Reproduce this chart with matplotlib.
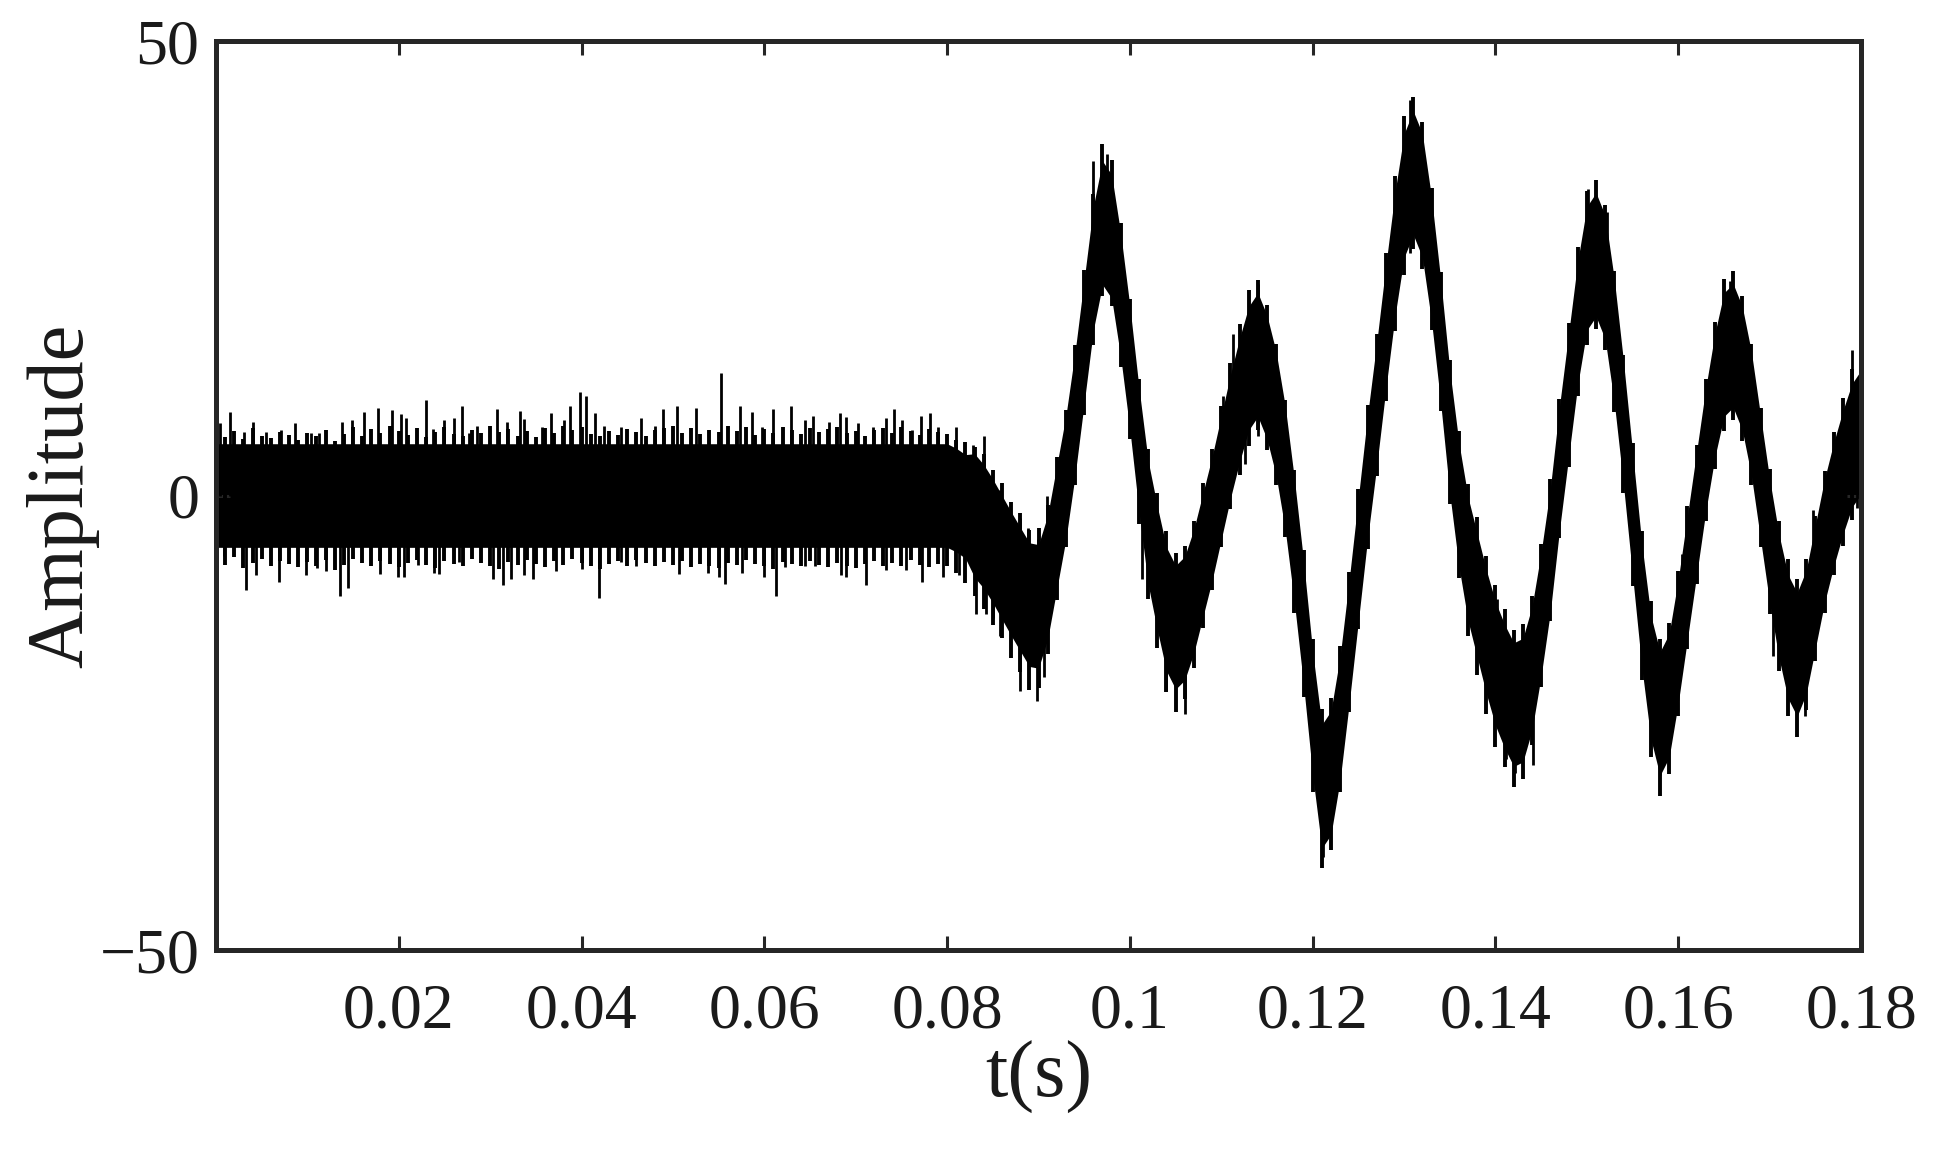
import numpy as np
import matplotlib
matplotlib.use("Agg")
import matplotlib.pyplot as plt

# ---------------- data ----------------
# time grid (s) for the centre line of the signal, 1 ms steps
t = np.round(np.arange(0, 181) * 0.001, 4)

# centre line of the signal (amplitude) at every millisecond
center = [0.0] * 81 + [
    -0.5, -1.2, -2.2, -3.4, -5.0, -6.8, -8.6, -10.3, -12.0, -12.2,      # 81-90
    -9.0, -3.5, 2.0, 9.0, 17.0, 25.0, 30.0, 28.5, 22.0, 14.0,            # 91-100
    5.0, -3.0, -8.0, -12.5, -14.5, -13.5, -10.5, -6.5, -2.5, 2.0,        # 101-110
    6.5, 10.5, 14.0, 15.5, 13.0, 9.0, 3.0, -5.0, -14.0, -24.0,          # 111-120
    -32.0, -30.5, -24.5, -16.0, -7.0, 2.0, 10.0, 18.5, 26.5, 33.0,      # 121-130
    35.5, 33.0, 26.0, 17.0, 7.0, -1.0, -7.0, -11.0, -15.0, -18.5,       # 131-140
    -21.0, -23.0, -22.5, -19.0, -13.0, -6.0, 3.0, 11.0, 19.0, 25.0,     # 141-150
    26.5, 24.0, 17.0, 8.0, -2.0, -12.0, -20.0, -24.0, -22.0, -16.0,     # 151-160
    -9.0, -2.0, 5.0, 11.0, 15.5, 16.5, 14.0, 9.0, 2.0, -5.0,            # 161-170
    -11.0, -15.5, -17.5, -15.0, -10.0, -5.0, -1.0, 2.5, 5.5, 7.0,       # 171-180
]

# extent of the noise above / below the centre line at every millisecond
edge_up = [
    6.8, 6.4, 7.1, 6.2, 7.4, 6.6, 6.3, 7.0, 6.7, 6.1,
    6.9, 6.5, 7.2, 6.0, 6.8, 7.5, 6.6, 7.3, 6.9, 7.6,
    7.1, 6.7, 7.4, 6.4, 7.0, 7.5, 6.8, 6.5, 7.2, 6.9,
    7.6, 7.0, 7.3, 6.6, 7.1, 6.4, 7.4, 6.9, 7.7, 7.2,
    7.5, 6.8, 6.5, 7.1, 6.7, 7.3, 7.0, 6.5, 7.2, 7.4,
    7.6, 6.9, 7.4, 6.8, 7.2, 7.0, 7.6, 7.1, 7.5, 6.7,
    7.3, 6.9, 7.5, 7.2, 6.8, 7.4, 7.0, 7.3, 7.5, 6.9,
    7.1, 6.6, 7.2, 7.4, 6.9, 7.5, 7.1, 6.7, 7.3, 7.0,
    6.8, 6.6, 7.1, 7.5, 8.0, 7.8, 8.2, 7.9, 8.4, 8.2,
    8.6, 8.0, 7.7, 7.4, 7.6, 7.8, 8.2, 8.7, 8.4, 8.0,
    7.6, 7.8, 8.1, 8.3, 8.6, 8.2, 8.0, 7.7, 7.9, 7.6,
    7.8, 8.1, 8.4, 8.6, 8.2, 8.0, 7.7, 7.5, 7.8, 8.0,
    8.2, 8.5, 8.2, 7.9, 7.6, 7.7, 8.0, 7.8, 8.2, 8.6,
    8.8, 8.4, 8.1, 7.8, 7.6, 7.9, 8.1, 8.3, 8.6, 8.4,
    8.7, 8.5, 8.2, 8.4, 8.0, 7.7, 7.8, 7.6, 8.0, 8.3,
    8.5, 8.2, 8.0, 7.7, 7.5, 7.8, 8.1, 8.4, 8.2, 8.0,
    7.7, 7.9, 7.6, 7.8, 8.1, 8.3, 8.2, 7.9, 7.7, 7.6,
    7.9, 8.2, 8.5, 8.3, 8.0, 7.8, 7.7, 8.0, 8.2, 8.4,
    8.2,
]
edge_dn = [
    7.1, 7.6, 6.8, 8.0, 7.4, 7.0, 7.8, 7.2, 7.5, 7.9,
    7.3, 7.7, 7.1, 8.2, 7.6, 7.0, 7.4, 7.8, 7.2, 7.5,
    7.9, 7.4, 7.1, 7.6, 8.0, 7.2, 7.5, 7.8, 7.0, 7.4,
    7.7, 8.1, 7.3, 7.6, 7.1, 7.5, 7.9, 7.2, 7.6, 7.0,
    7.4, 7.8, 8.1, 7.5, 7.2, 7.7, 7.1, 7.4, 7.8, 7.3,
    7.6, 7.2, 7.9, 7.5, 7.7, 8.0, 7.4, 7.6, 7.1, 7.5,
    7.8, 8.1, 7.3, 7.5, 7.7, 7.2, 7.6, 7.9, 7.4, 7.8,
    8.0, 7.5, 7.2, 7.7, 7.4, 7.8, 7.1, 7.6, 7.9, 7.5,
    7.7, 8.0, 8.4, 8.8, 9.1, 9.2, 8.9, 9.3, 9.1, 9.4,
    9.0, 8.4, 8.0, 7.7, 7.8, 8.1, 8.4, 8.0, 7.7, 7.9,
    7.8, 8.1, 8.4, 8.8, 9.1, 9.3, 8.9, 8.5, 8.1, 7.9,
    7.7, 8.0, 8.2, 8.5, 8.3, 8.0, 7.8, 7.6, 7.9, 8.2,
    8.6, 9.0, 8.5, 8.1, 7.8, 7.7, 7.9, 7.8, 8.1, 8.4,
    8.7, 8.4, 8.1, 7.8, 7.7, 7.9, 8.1, 8.4, 8.7, 9.0,
    9.2, 8.9, 9.1, 8.7, 8.4, 8.1, 7.8, 7.7, 7.9, 8.1,
    8.4, 8.2, 8.0, 7.8, 7.7, 8.0, 8.3, 8.8, 9.1, 8.6,
    8.2, 7.9, 7.7, 7.8, 8.1, 8.4, 8.2, 8.0, 7.8, 7.7,
    8.0, 8.3, 8.8, 9.1, 8.6, 8.2, 7.9, 7.7, 8.0, 8.2,
    8.0,
]

# upward noise spikes: time (s) and top amplitude
spike_up_t = [
    0.0004, 0.0015, 0.0031, 0.0040, 0.0055, 0.0071, 0.0086, 0.0104, 0.0113,
    0.0138, 0.0149, 0.0162, 0.0177, 0.0193, 0.0202, 0.0208, 0.0230, 0.0237,
    0.0250, 0.0261, 0.0269, 0.0277, 0.0286, 0.0308, 0.0318, 0.0333, 0.0337,
    0.0357, 0.0367, 0.0381, 0.0387, 0.0398, 0.0405, 0.0415, 0.0425, 0.0443,
    0.0465, 0.0480, 0.0489, 0.0505, 0.0525, 0.0553, 0.0573, 0.0587, 0.0598,
    0.0609, 0.0629, 0.0644, 0.0653, 0.0671, 0.0683, 0.0689, 0.0702, 0.0719,
    0.0733, 0.0742, 0.0751, 0.0762, 0.0771, 0.0781, 0.0790, 0.0810, 0.0828,
    0.0840, 0.0857, 0.0880, 0.0888, 0.0899, 0.0909, 0.0960, 0.0975, 0.1102,
    0.1113, 0.1140, 0.1306, 0.1402, 0.1501, 0.1522, 0.1604, 0.1657, 0.1747,
    0.1790,
]
spike_up_v = [
    8.0, 9.2, 7.0, 8.1, 7.0, 7.2, 8.0, 6.9, 6.9,
    8.1, 8.3, 9.2, 9.6, 9.4, 9.0, 8.5, 10.5, 7.3,
    8.3, 8.5, 9.8, 6.9, 7.6, 9.5, 8.1, 9.3, 8.4,
    7.5, 9.1, 8.3, 9.8, 11.4, 10.9, 9.1, 7.6, 7.5,
    8.5, 7.7, 9.5, 9.8, 9.6, 13.5, 9.8, 9.2, 7.5,
    9.5, 9.8, 8.3, 8.8, 8.1, 9.1, 8.6, 8.0, 7.5,
    8.5, 9.5, 8.3, 7.2, 8.8, 9.1, 7.5, 7.5, 5.6,
    6.6, 0.6, -2.5, -3.6, -4.8, 0.0, 36.8, 37.6, 11.0,
    17.8, 23.3, 43.5, -11.4, 33.7, 31.2, -6.4, 23.6, -1.6,
    16.0,
]

# downward noise spikes: time (s) and bottom amplitude
spike_dn_t = [
    0.0009, 0.0033, 0.0044, 0.0069, 0.0098, 0.0111, 0.0120, 0.0136, 0.0145,
    0.0179, 0.0199, 0.0206, 0.0221, 0.0239, 0.0244, 0.0266, 0.0303, 0.0314,
    0.0323, 0.0337, 0.0347, 0.0372, 0.0401, 0.0419, 0.0443, 0.0460, 0.0507,
    0.0538, 0.0550, 0.0557, 0.0576, 0.0600, 0.0613, 0.0623, 0.0644, 0.0655,
    0.0684, 0.0689, 0.0711, 0.0733, 0.0755, 0.0773, 0.0795, 0.0813, 0.0832,
    0.0843, 0.0850, 0.0858, 0.0880, 0.0898, 0.0906, 0.0967, 0.1013, 0.1040,
    0.1060, 0.1126, 0.1140, 0.1211, 0.1306, 0.1412, 0.1421, 0.1441, 0.1503,
    0.1580, 0.1704, 0.1739, 0.1795,
]
spike_dn_v = [
    -6.7, -10.4, -8.7, -9.5, -8.7, -8.0, -8.3, -11.1, -10.2,
    -8.6, -9.0, -9.0, -7.6, -8.5, -8.6, -7.3, -9.2, -9.8,
    -9.2, -8.7, -9.2, -8.3, -8.1, -11.3, -7.3, -7.7, -8.6,
    -8.5, -9.0, -9.7, -8.5, -9.0, -11.0, -7.9, -7.7, -7.7,
    -8.7, -9.0, -9.8, -8.2, -8.2, -9.5, -9.0, -8.7, -13.0,
    -13.0, -13.5, -15.5, -21.5, -22.6, -20.0, 22.2, -9.2, -21.5,
    -24.0, 3.5, 6.5, -39.8, 26.7, -29.0, -30.5, -29.7, 19.4,
    -30.8, -17.7, -24.3, -1.4,
]

x_ticks = [0.02, 0.04, 0.06, 0.08, 0.10, 0.12, 0.14, 0.16, 0.18]
x_tick_labels = ["0.02", "0.04", "0.06", "0.08", "0.1", "0.12", "0.14", "0.16", "0.18"]
y_ticks = [-50, 0, 50]
y_tick_labels = ["\u221250", "0", "50"]

# ---------------- drawing ----------------
plt.rcParams["font.family"] = ["Liberation Serif", "DejaVu Serif"]

fig = plt.figure(figsize=(19.35, 11.5), dpi=100)
ax = fig.add_axes([0.1116, 0.1739, 0.8502, 0.7904])

t_arr = np.asarray(t)
c_arr = np.asarray(center)
up_arr = np.asarray(edge_up)
dn_arr = np.asarray(edge_dn)
core = np.where(t_arr < 0.0825, 5.7, 6.8)

# solid core of the noisy trace
ax.fill_between(t_arr, c_arr - core, c_arr + core, color="black", linewidth=0)
# comb-like noise edges
ax.vlines(t_arr, c_arr - dn_arr, c_arr + up_arr, color="black", linewidth=2.8)
# isolated larger spikes
for st, sv in ((spike_up_t, spike_up_v), (spike_dn_t, spike_dn_v)):
    st = np.asarray(st)
    base = np.interp(st, t_arr, c_arr)
    ax.vlines(st, base, np.asarray(sv), color="black", linewidth=2.0)

ax.set_xlim(0, 0.18)
ax.set_ylim(-50, 50)
ax.set_xticks(x_ticks)
ax.set_xticklabels(x_tick_labels)
ax.set_yticks(y_ticks)
ax.set_yticklabels(y_tick_labels)

spine_col = "#262626"
for s in ax.spines.values():
    s.set_linewidth(3.6)
    s.set_color(spine_col)
    s.set_zorder(5)
ax.tick_params(axis="both", which="major", direction="in", length=10, width=2.2,
               colors=spine_col, labelcolor="#1a1a1a", labelsize=46,
               top=True, right=True)
ax.tick_params(axis="x", pad=24)
ax.tick_params(axis="y", pad=12)

ax.set_xlabel("t(s)", fontsize=58, color="#1a1a1a", labelpad=0)
ax.set_ylabel("Amplitude", fontsize=58, color="#1a1a1a", labelpad=0)

fig.savefig("out.png", dpi=100, facecolor="white")
